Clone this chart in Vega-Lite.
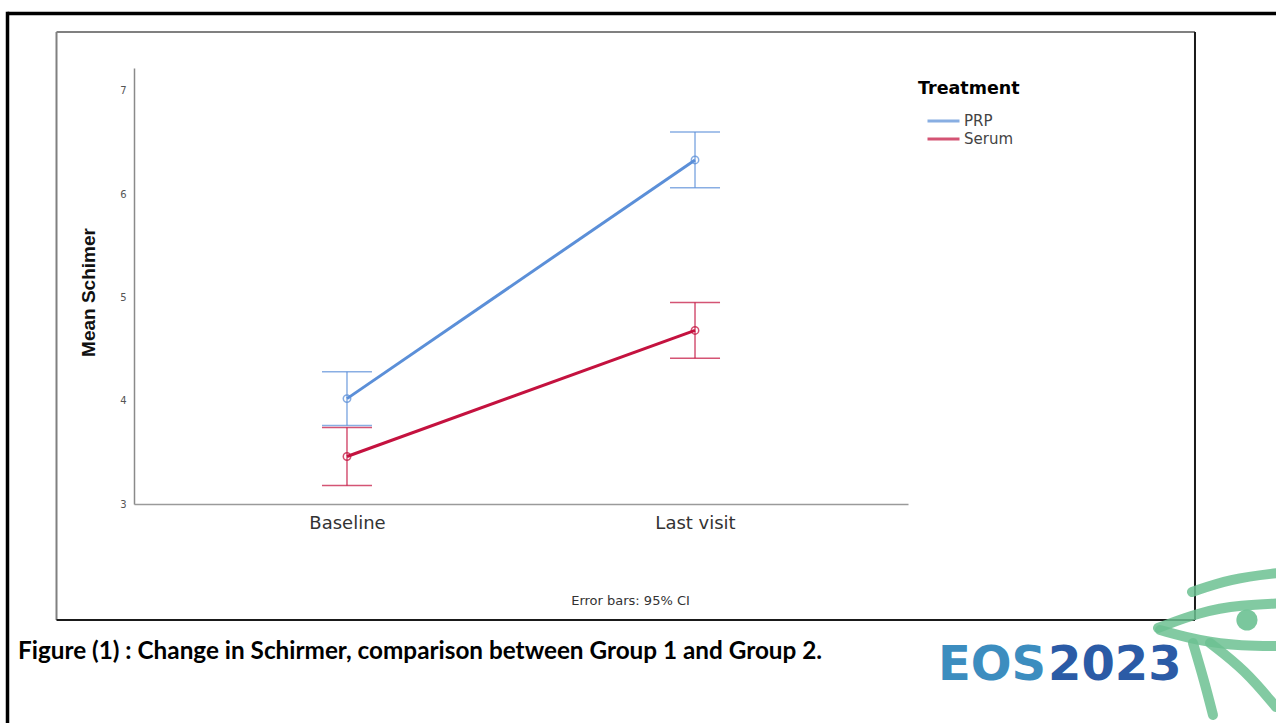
{
  "$schema": "https://vega.github.io/schema/vega-lite/v6.json",
  "width": 774,
  "height": 436,
  "autosize": {"type": "none"},
  "padding": {"left": 134, "top": 68, "right": 368, "bottom": 219},
  "background": "white",
  "config": {"view": {"stroke": null}, "font": "DejaVu Sans", "axis": {"grid": false}},
  "datasets": {
    "means": [
      {"Treatment": "PRP", "Visit": "Baseline", "Mean": 4.02, "Lower": 3.76, "Upper": 4.28},
      {"Treatment": "PRP", "Visit": "Last visit", "Mean": 6.33, "Lower": 6.06, "Upper": 6.60},
      {"Treatment": "Serum", "Visit": "Baseline", "Mean": 3.46, "Lower": 3.18, "Upper": 3.74},
      {"Treatment": "Serum", "Visit": "Last visit", "Mean": 4.68, "Lower": 4.41, "Upper": 4.95}
    ],
    "frameOuter": [
      {"x1": 0.0244, "x2": 3.72, "y1": 7.7473, "y2": 7.7473},
      {"x1": 0.0244, "x2": 0.0244, "y1": 7.7643, "y2": 0.70}
    ],
    "frameLight": [
      {"x1": 0.1652, "x2": 3.4368, "y1": 7.5683, "y2": 7.5683},
      {"x1": 0.1652, "x2": 0.1652, "y1": 7.5683, "y2": 1.8773}
    ],
    "frameDark": [
      {"x1": 3.4368, "x2": 3.4368, "y1": 7.5683, "y2": 1.8773},
      {"x1": 0.1652, "x2": 3.4368, "y1": 1.8773, "y2": 1.8773}
    ],
    "caption": [
      {"label": "Figure (1) : Change in  Schirmer, comparison between Group 1 and Group 2.", "x": 0.0546, "y": 1.5676}
    ],
    "logo": [
      {"label": "EOS", "x": 2.6983, "y": 1.2966},
      {"label": "2023", "x": 3.0144, "y": 1.2966}
    ],
    "eye": [
      {"stroke": "brow", "order": 1, "x": 3.4282, "y": 2.1483},
      {"stroke": "brow", "order": 2, "x": 3.5374, "y": 2.2742},
      {"stroke": "brow", "order": 3, "x": 3.6695, "y": 2.3322},
      {"stroke": "brow", "order": 4, "x": 3.7098, "y": 2.34},
      {"stroke": "upper", "order": 1, "x": 3.3305, "y": 1.7998},
      {"stroke": "upper", "order": 2, "x": 3.4511, "y": 1.9547},
      {"stroke": "upper", "order": 3, "x": 3.5661, "y": 2.0225},
      {"stroke": "upper", "order": 4, "x": 3.7098, "y": 2.0418},
      {"stroke": "lower", "order": 1, "x": 3.3362, "y": 1.7805},
      {"stroke": "lower", "order": 2, "x": 3.4511, "y": 1.6740},
      {"stroke": "lower", "order": 3, "x": 3.5661, "y": 1.6256},
      {"stroke": "lower", "order": 4, "x": 3.7098, "y": 1.6256},
      {"stroke": "tear", "order": 1, "x": 3.4310, "y": 1.6547},
      {"stroke": "tear", "order": 2, "x": 3.4626, "y": 1.2966},
      {"stroke": "tear", "order": 3, "x": 3.4885, "y": 0.9578},
      {"stroke": "spiral", "order": 1, "x": 3.4799, "y": 1.6547},
      {"stroke": "spiral", "order": 2, "x": 3.5805, "y": 1.3934},
      {"stroke": "spiral", "order": 3, "x": 3.6695, "y": 1.0352}
    ],
    "pupil": [
      {"x": 3.5862, "y": 1.8773}
    ]
  },
  "layer": [
    {
      "data": {"name": "means"},
      "encoding": {
        "x": {
          "field": "Visit",
          "type": "ordinal",
          "scale": {"type": "point", "padding": 0.612},
          "axis": {
            "title": "Error bars: 95% CI",
            "titleFont": "DejaVu Sans",
            "titleFontSize": 13,
            "titleFontWeight": "normal",
            "titleColor": "#333333",
            "titleX": 496,
            "titleY": 96,
            "titleAlign": "center",
            "titleBaseline": "middle",
            "labelAngle": 0,
            "labelFontSize": 18,
            "labelColor": "#333333",
            "labelPadding": 10,
            "ticks": false,
            "domainColor": "#9a9a9a",
            "domainWidth": 1.5,
            "grid": false
          }
        },
        "color": {
          "field": "Treatment",
          "type": "nominal",
          "scale": {"domain": ["PRP", "Serum"], "range": ["#5B8FD8", "#C4123F"]},
          "legend": {
            "orient": "none",
            "legendX": 784,
            "legendY": 12,
            "title": "Treatment",
            "titleFont": "DejaVu Sans",
            "titleFontSize": 17.5,
            "titleFontWeight": "bold",
            "titleColor": "#000000",
            "titlePadding": 16,
            "symbolType": "M-3.2,0H3.2",
            "symbolSize": 100,
            "symbolStrokeWidth": 3,
            "symbolOffset": 18,
            "labelFontSize": 15,
            "labelColor": "#444444",
            "labelOffset": 13,
            "rowPadding": 2,
            "padding": 0
          }
        }
      },
      "layer": [
        {
          "mark": {"type": "rule", "strokeWidth": 1.5, "opacity": 0.72},
          "encoding": {
            "y": {
              "field": "Lower",
              "type": "quantitative",
              "title": "Mean Schimer",
              "scale": {"domain": [3, 7.22], "nice": false, "zero": false},
              "axis": {
                "title": "Mean Schimer",
                "titleFont": "Liberation Sans",
                "titleFontSize": 19,
                "titleFontWeight": "bold",
                "titleColor": "#111111",
                "titleX": -46,
                "titleY": 224,
                "titleAngle": -90,
                "titleAlign": "center",
                "titleBaseline": "middle",
                "values": [3, 4, 5, 6, 7],
                "format": "d",
                "ticks": false,
                "labelFontSize": 10,
                "labelColor": "#555555",
                "labelPadding": 8,
                "domainColor": "#8a8a8a",
                "domainWidth": 1.5,
                "grid": false
              }
            },
            "y2": {"field": "Upper"}
          }
        },
        {
          "mark": {"type": "tick", "size": 50, "thickness": 1.5, "opacity": 0.72},
          "encoding": {
            "y": {"field": "Lower", "type": "quantitative", "title": "Mean Schimer", "scale": {"domain": [3, 7.22], "nice": false, "zero": false}}
          }
        },
        {
          "mark": {"type": "tick", "size": 50, "thickness": 1.5, "opacity": 0.72},
          "encoding": {
            "y": {"field": "Upper", "type": "quantitative", "title": "Mean Schimer", "scale": {"domain": [3, 7.22], "nice": false, "zero": false}}
          }
        },
        {
          "mark": {"type": "line", "strokeWidth": 3},
          "encoding": {
            "y": {"field": "Mean", "type": "quantitative", "title": "Mean Schimer", "scale": {"domain": [3, 7.22], "nice": false, "zero": false}}
          }
        },
        {
          "mark": {"type": "point", "shape": "circle", "filled": false, "size": 55, "strokeWidth": 1.5, "opacity": 0.75},
          "encoding": {
            "y": {"field": "Mean", "type": "quantitative", "title": "Mean Schimer", "scale": {"domain": [3, 7.22], "nice": false, "zero": false}}
          }
        }
      ]
    },
    {
      "layer": [
        {
          "data": {"name": "frameOuter"},
          "mark": {"type": "rule", "color": "#000000", "strokeWidth": 3.5},
          "encoding": {
            "x": {"field": "x1", "type": "quantitative", "scale": {"domain": [0.3879, 2.6121], "nice": false, "zero": false}, "axis": null},
            "x2": {"field": "x2"},
            "y": {"field": "y1", "type": "quantitative", "scale": {"domain": [3, 7.22], "nice": false, "zero": false}, "axis": null},
            "y2": {"field": "y2"}
          }
        },
        {
          "data": {"name": "frameLight"},
          "mark": {"type": "rule", "color": "#808080", "strokeWidth": 2},
          "encoding": {
            "x": {"field": "x1", "type": "quantitative", "scale": {"domain": [0.3879, 2.6121], "nice": false, "zero": false}, "axis": null},
            "x2": {"field": "x2"},
            "y": {"field": "y1", "type": "quantitative", "scale": {"domain": [3, 7.22], "nice": false, "zero": false}, "axis": null},
            "y2": {"field": "y2"}
          }
        },
        {
          "data": {"name": "frameDark"},
          "mark": {"type": "rule", "color": "#1a1a1a", "strokeWidth": 2},
          "encoding": {
            "x": {"field": "x1", "type": "quantitative", "scale": {"domain": [0.3879, 2.6121], "nice": false, "zero": false}, "axis": null},
            "x2": {"field": "x2"},
            "y": {"field": "y1", "type": "quantitative", "scale": {"domain": [3, 7.22], "nice": false, "zero": false}, "axis": null},
            "y2": {"field": "y2"}
          }
        },
        {
          "data": {"name": "caption"},
          "mark": {"type": "text", "font": "Lato", "fontWeight": "bold", "fontSize": 24.3, "align": "left", "baseline": "middle", "color": "#000000"},
          "encoding": {
            "x": {"field": "x", "type": "quantitative", "scale": {"domain": [0.3879, 2.6121], "nice": false, "zero": false}, "axis": null},
            "y": {"field": "y", "type": "quantitative", "scale": {"domain": [3, 7.22], "nice": false, "zero": false}, "axis": null},
            "text": {"field": "label"}
          }
        },
        {
          "data": {"name": "eye"},
          "mark": {"type": "line", "color": "#6cc192", "strokeWidth": 10, "opacity": 0.85, "interpolate": "basis", "strokeCap": "round"},
          "encoding": {
            "x": {"field": "x", "type": "quantitative", "scale": {"domain": [0.3879, 2.6121], "nice": false, "zero": false}, "axis": null},
            "y": {"field": "y", "type": "quantitative", "scale": {"domain": [3, 7.22], "nice": false, "zero": false}, "axis": null},
            "detail": {"field": "stroke"},
            "order": {"field": "order"}
          }
        },
        {
          "data": {"name": "pupil"},
          "mark": {"type": "point", "shape": "circle", "filled": true, "size": 450, "color": "#6cc192", "opacity": 0.9},
          "encoding": {
            "x": {"field": "x", "type": "quantitative", "scale": {"domain": [0.3879, 2.6121], "nice": false, "zero": false}, "axis": null},
            "y": {"field": "y", "type": "quantitative", "scale": {"domain": [3, 7.22], "nice": false, "zero": false}, "axis": null}
          }
        },
        {
          "data": {"name": "logo"},
          "transform": [{"filter": "datum.label === 'EOS'"}],
          "mark": {"type": "text", "font": "DejaVu Sans", "fontWeight": "bold", "fontSize": 48, "align": "left", "baseline": "alphabetic", "color": "#3C8DBF"},
          "encoding": {
            "x": {"field": "x", "type": "quantitative", "scale": {"domain": [0.3879, 2.6121], "nice": false, "zero": false}, "axis": null},
            "y": {"field": "y", "type": "quantitative", "scale": {"domain": [3, 7.22], "nice": false, "zero": false}, "axis": null},
            "text": {"field": "label"}
          }
        },
        {
          "data": {"name": "logo"},
          "transform": [{"filter": "datum.label === '2023'"}],
          "mark": {"type": "text", "font": "DejaVu Sans", "fontWeight": "bold", "fontSize": 48, "align": "left", "baseline": "alphabetic", "color": "#2B5BA6"},
          "encoding": {
            "x": {"field": "x", "type": "quantitative", "scale": {"domain": [0.3879, 2.6121], "nice": false, "zero": false}, "axis": null},
            "y": {"field": "y", "type": "quantitative", "scale": {"domain": [3, 7.22], "nice": false, "zero": false}, "axis": null},
            "text": {"field": "label"}
          }
        }
      ]
    }
  ],
  "resolve": {"scale": {"x": "independent", "y": "independent"}}
}
